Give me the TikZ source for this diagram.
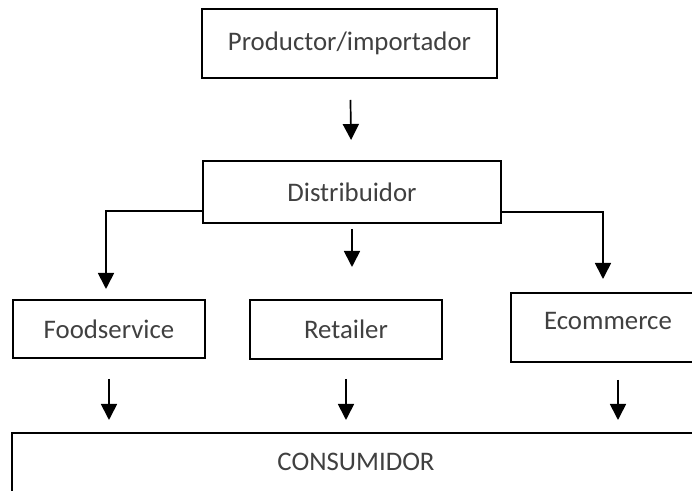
\documentclass[tikz,border=0pt]{standalone}
\usepackage{fontspec}
\setmainfont{Carlito}
\usetikzlibrary{arrows.meta}
\definecolor{txtgray}{RGB}{64,64,64}
\tikzset{
  box/.style={draw, line width=1pt, text=txtgray, inner sep=0pt,
    font=\fontsize{13.4}{15}\selectfont},
  arr/.style={-{Triangle[width=8pt,length=8pt]}, line width=0.85pt},
}

\begin{document}
\begin{tikzpicture}[x=0.5pt,y=-0.5pt]
  \useasboundingbox (0,0) rectangle (692,491);
  \clip (0,0) rectangle (692,491);
  \node[box, minimum width=147.5pt, minimum height=34.5pt] (P) at (349.5,43.5) {Productor/importador};
  \node[box, minimum width=149pt, minimum height=31pt] (D) at (352,192) {Distribuidor};
  \node[box, minimum width=96pt, minimum height=29pt] (F) at (109,329) {Foodservice};
  \node[box, minimum width=96pt, minimum height=29.5pt] (R) at (346,329.5) {Retailer};
  % these two run off the right margin
  \node[box, minimum width=124.5pt, minimum height=34.5pt,
    label={[txtgray, font=\fontsize{13.4}{15}\selectfont, xshift=-13.75pt, yshift=3.25pt]center:Ecommerce}] (E) at (635.5,327.5) {};
  \node[box, minimum width=374pt, minimum height=31pt,
    label={[txtgray, font=\fontsize{13.4}{15}\selectfont, xshift=-15pt, yshift=1pt]center:CONSUMIDOR}] (C) at (386,464) {};
  % top level
  \path[arr] (P) edge[shorten <=10.5pt, shorten >=10pt] (D);
  % branches out of the distributor
  \draw[arr, shorten >=5pt] ([yshift=6.5pt]D.south west) -| ([xshift=-1.5pt]F.north);
  \draw[arr, shorten <=2.5pt, shorten >=16pt] (D.south) -- (D.south |- R.north);
  \draw[arr, shorten >=6.5pt] ([yshift=6pt]D.south east) -| ([xshift=-16.25pt]E.north);
  % down to the consumer
  \draw[arr, shorten <=10pt, shorten >=6pt] (F.south) -- (F.south |- C.north);
  \draw[arr, shorten <=9.5pt, shorten >=6pt] (R.south) -- (R.south |- C.north);
  \draw[arr, shorten <=8.5pt, shorten >=6pt] ([xshift=-8.75pt]E.south) -- ([xshift=-8.75pt]E.south |- C.north);
\end{tikzpicture}
\end{document}
